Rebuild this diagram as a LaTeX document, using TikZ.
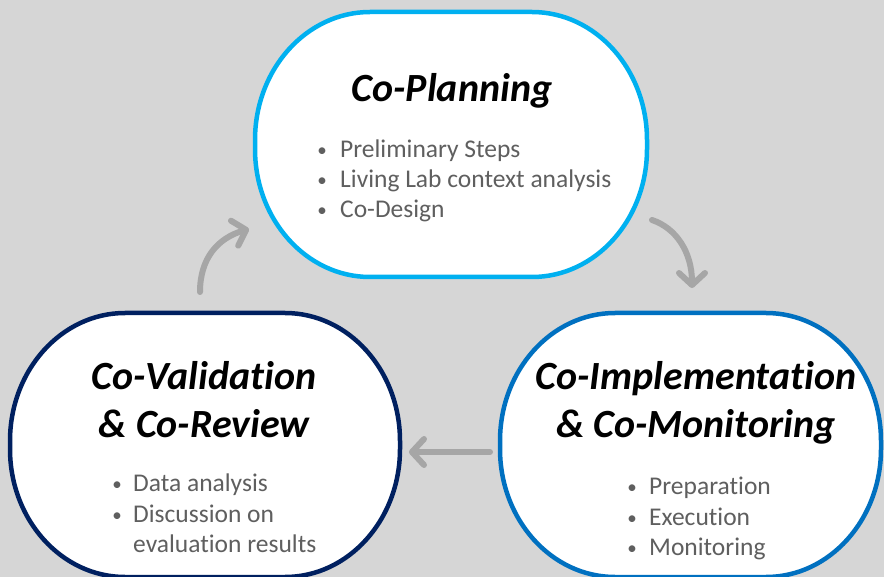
\documentclass[tikz,border=0pt]{standalone}
\usepackage{fontspec}
\setmainfont{Carlito}[Ligatures=NoCommon]
\usetikzlibrary{arrows.meta}
\definecolor{bg}{HTML}{D6D6D6}
\definecolor{topblue}{HTML}{00B0F0}
\definecolor{navy}{HTML}{002060}
\definecolor{midblue}{HTML}{0070C0}
\definecolor{bulletgray}{HTML}{5F5F5F}
\definecolor{arrowgray}{HTML}{A6A6A6}
\tikzset{
  phase/.style={draw=#1, fill=white, line width=4.5pt},
  titletxt/.style={anchor=base, inner sep=0pt, font=\fontsize{40}{40}\selectfont\bfseries\itshape},
  bultxt/.style={anchor=base west, inner sep=0pt, text=bulletgray, font=\fontsize{25.5}{30}\selectfont},
  bulletdot/.style={anchor=base east, inner sep=0pt, text=bulletgray, font=\fontsize{19}{19}\selectfont},
  cycarrow/.style={draw=arrowgray, line width=6pt, line cap=round, -{Straight Barb[length=12pt,width=26pt,round]}}
}
% elliptical-corner box: color, x1, y1, x2, y2, rx, ry
\newcommand\PhaseBox[7]{%
  \pgfmathsetmacro\kx{0.5523*#6}\pgfmathsetmacro\ky{0.5523*#7}%
  \draw[phase=#1] (#2,#3+#7)
    .. controls (#2,#3+#7-\ky) and (#2+#6-\kx,#3) .. (#2+#6,#3)
    -- (#4-#6,#3)
    .. controls (#4-#6+\kx,#3) and (#4,#3+#7-\ky) .. (#4,#3+#7)
    -- (#4,#5-#7)
    .. controls (#4,#5-#7+\ky) and (#4-#6+\kx,#5) .. (#4-#6,#5)
    -- (#2+#6,#5)
    .. controls (#2+#6-\kx,#5) and (#2,#5-#7+\ky) .. (#2,#5-#7)
    -- cycle;}
\begin{document}
\begin{tikzpicture}[x=1pt,y=-1pt]
\useasboundingbox (0,0) rectangle (884,577);
\fill[bg] (0,0) rectangle (884,577);
\begin{scope}
\clip (0,0) rectangle (884,577);
\PhaseBox{topblue}{255}{12}{647}{277}{115}{128}
\PhaseBox{navy}{10}{313}{400}{577}{115}{128}
\PhaseBox{midblue}{500}{313}{881}{577}{115}{128}
\end{scope}
% titles
\node[titletxt] (planT) at (452,102) {Co-Planning};
\node[titletxt] (valT1) at (204,390) {Co-Validation};
\node[titletxt] (valT2) at (204,437) {\& Co-Review};
\node[titletxt] (implT1) at (696,390) {Co-Implementation};
\node[titletxt] (implT2) at (696,437) {\& Co-Monitoring};
% bullets top
\foreach \t/\yy [count=\i] in {Preliminary Steps/158, Living Lab context analysis/188, Co-Design/218}{
  \node[bultxt] (pb\i) at (340,\yy) {\t};
  \node[bulletdot] (pd\i) at (327,\yy-1) {•};
}
% bullets left
\node[bultxt] (vb1) at (133,491) {Data analysis};
\node[bulletdot] (vd1) at (122,490) {•};
\node[bultxt] (vb2) at (133,522) {Discussion on};
\node[bulletdot] (vd2) at (122,521) {•};
\node[bultxt] (vb3) at (133,552) {evaluation results};
% bullets right
\foreach \t/\yy [count=\i] in {Preparation/494, Execution/525, Monitoring/555}{
  \node[bultxt] (ib\i) at (649,\yy) {\t};
  \node[bulletdot] (id\i) at (637,\yy-1) {•};
}
% arrows
\coordinate (a1s) at (200,292);
\coordinate (a1e) at (249,229);
\coordinate (a2s) at (652,220);
\coordinate (a2e) at (692,288);
\coordinate (a3s) at (490,452);
\coordinate (a3e) at (409,452);
\draw[cycarrow] (a1s) .. controls (200,258) and (218,238) .. (a1e);
\draw[cycarrow] (a2s) .. controls (676,228) and (692,252) .. (a2e);
\draw[cycarrow] (a3s) -- (a3e);
\end{tikzpicture}
\end{document}
